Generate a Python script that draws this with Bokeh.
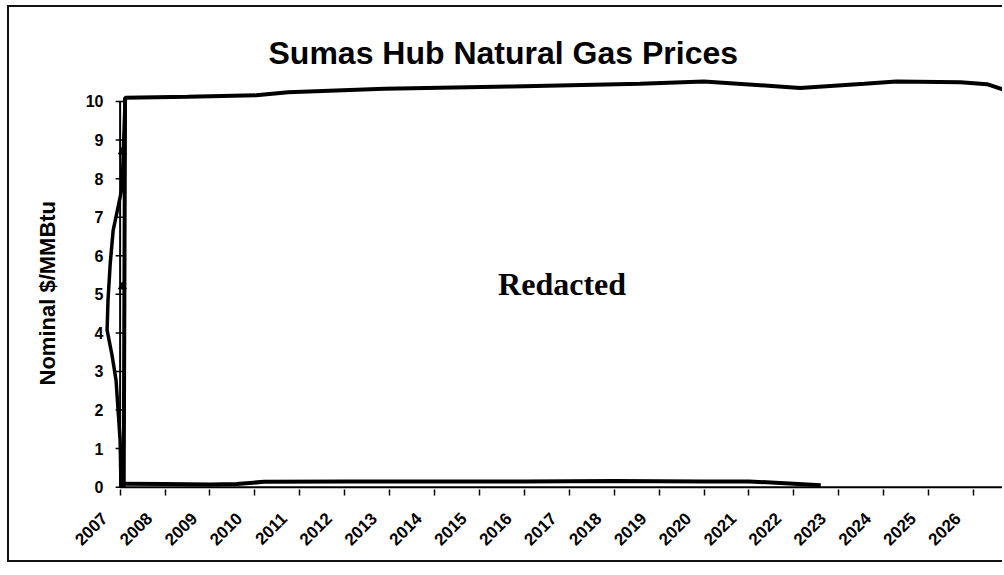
import math
from bokeh.plotting import figure
from bokeh.models import FixedTicker, Label, Range1d, CustomJSTickFormatter, Title
from bokeh.embed import file_html
from bokeh.resources import INLINE

# ---- data ----
title_text = "Sumas Hub Natural Gas Prices"
y_label = "Nominal $/MMBtu"
overlay_text = "Redacted"
tick_years = list(range(2007, 2027))
y_ticks = list(range(0, 11))

# upper (redacted) price trace
top_x = [2007.08, 2007.11, 2008.5, 2010.03, 2010.74, 2012.88, 2015.73, 2018.58,
         2020.0, 2021.43, 2022.14, 2023.57, 2024.28, 2025.71, 2026.3, 2026.69]
top_y = [0.0, 10.1, 10.12, 10.16, 10.24, 10.33, 10.39, 10.46,
         10.52, 10.41, 10.35, 10.46, 10.52, 10.5, 10.45, 10.3]

# lower trace near zero
bot_x = [2007.1, 2008.0, 2009.0, 2009.6, 2010.2, 2012.0, 2014.0, 2016.0,
         2018.0, 2020.0, 2021.0, 2021.8, 2022.6]
bot_y = [0.09, 0.08, 0.07, 0.08, 0.14, 0.15, 0.15, 0.15,
         0.16, 0.15, 0.15, 0.1, 0.05]

# left-hand scribble trace
bulge_x = [2007.11, 2007.045, 2006.845, 2006.78, 2006.73, 2006.71, 2006.82,
           2006.91, 2006.955, 2007.0, 2007.02]
bulge_y = [10.03, 7.77, 6.66, 5.80, 4.84, 4.07, 3.42, 2.77, 1.99, 1.22, 0.0]

# small arrow marks on the vertical trace
mark_x = [2007.05, 2007.05]
mark_y = [5.2, 8.7]

# ---- layout ----
x_start, x_end = 2006.63, 2026.69
label_shift = -0.35

p = figure(width=995, height=557,
           x_range=Range1d(x_start, x_end), y_range=Range1d(-0.06, 10.7),
           output_backend="svg", toolbar_location=None,
           min_border_left=94, min_border_right=0,
           min_border_top=67, min_border_bottom=75)
p.styles = {"margin-left": "7px", "margin-top": "5px",
            "border-left": "2px solid #111", "border-top": "2px solid #111",
            "border-bottom": "2px solid #111"}

p.outline_line_color = None
p.xgrid.visible = False
p.ygrid.visible = False
p.background_fill_color = "white"
p.border_fill_color = "white"

# title
p.title.text = title_text
p.title.text_font = "Liberation Sans"
p.title.text_font_size = "32px"
p.title.text_font_style = "bold"
p.title.text_color = "black"
p.title.align = "left"
p.title.offset = 165
p.title.standoff = 8

# y axis (labels only; line and ticks drawn at 2007)
p.yaxis.ticker = FixedTicker(ticks=y_ticks)
p.yaxis.axis_line_color = None
p.yaxis.major_tick_line_color = None
p.yaxis.minor_tick_line_color = None
p.yaxis.major_tick_out = 0
p.yaxis.major_tick_in = 0
p.yaxis.major_label_standoff = 0
p.yaxis.major_label_text_font = "Liberation Sans"
p.yaxis.major_label_text_font_style = "bold"
p.yaxis.major_label_text_font_size = "16px"
p.yaxis.major_label_text_color = "black"

# y axis title as a side title, sitting a little below the frame centre
p.add_layout(Title(text=y_label, align="left", offset=104, standoff=45,
                   text_font="Liberation Sans", text_font_style="bold",
                   text_font_size="22px", text_color="black"), "left")

# x axis: labels sit just left of the tick marks
p.xaxis.ticker = FixedTicker(ticks=[t + label_shift for t in tick_years],
                             minor_ticks=tick_years)
p.xaxis.formatter = CustomJSTickFormatter(code="return String(Math.round(tick));")
p.xaxis.axis_line_color = None
p.xaxis.major_tick_line_color = None
p.xaxis.major_tick_out = 0
p.xaxis.major_tick_in = 0
p.xaxis.minor_tick_line_color = "black"
p.xaxis.minor_tick_line_width = 1.5
p.xaxis.minor_tick_out = 6
p.xaxis.minor_tick_in = 0
p.xaxis.major_label_orientation = math.pi / 4
p.xaxis.major_label_standoff = 20
p.xaxis.major_label_text_font = "Liberation Sans"
p.xaxis.major_label_text_font_style = "bold"
p.xaxis.major_label_text_font_size = "17px"
p.xaxis.major_label_text_color = "black"

# axis lines at the 2007 / zero corner
p.segment(x0=[tick_years[0]], y0=[0], x1=[tick_years[0]], y1=[y_ticks[-1]],
          line_color="black", line_width=2)
p.segment(x0=[tick_years[0]], y0=[0], x1=[x_end], y1=[0],
          line_color="black", line_width=2)
p.scatter(x=[tick_years[0]] * len(y_ticks), y=y_ticks, marker="dash",
          size=9, line_color="black", line_width=1.5)

# traces
p.line(bulge_x, bulge_y, line_color="black", line_width=3.5)
p.line(bot_x, bot_y, line_color="black", line_width=4)
p.line(top_x, top_y, line_color="black", line_width=4)
p.scatter(mark_x, mark_y, marker="triangle", size=8, color="black")

p.add_layout(Label(x=2016.84, y=5.26, text=overlay_text,
                   text_font="Liberation Serif", text_font_style="bold",
                   text_font_size="32px", text_align="center",
                   text_baseline="middle", text_color="black"))

open("out.html", "w").write(file_html(p, INLINE))
